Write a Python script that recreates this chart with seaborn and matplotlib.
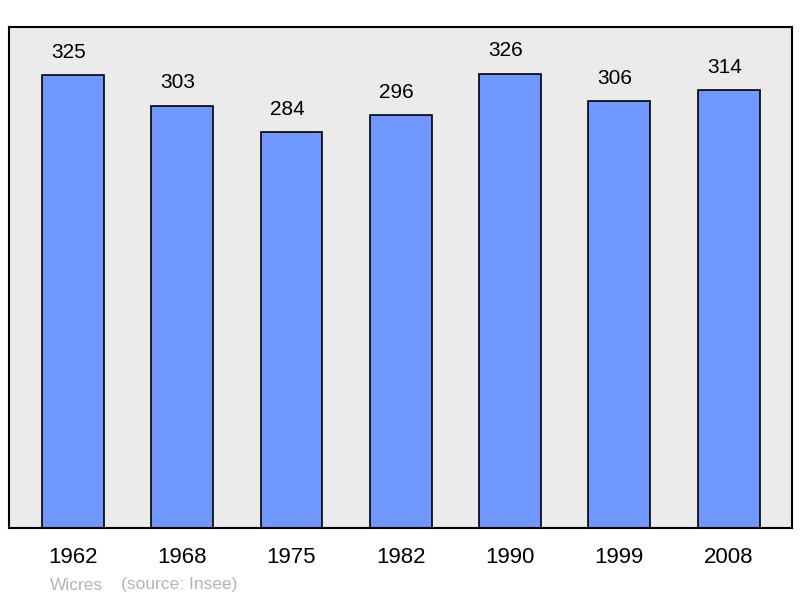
import matplotlib
matplotlib.use("Agg")
import matplotlib.pyplot as plt
import seaborn as sns
import pandas as pd

years = ["1962", "1968", "1975", "1982", "1990", "1999", "2008"]
population = [325, 303, 284, 296, 326, 306, 314]

sns.set_style("white")
plt.rcParams['font.family'] = ['Liberation Sans', 'DejaVu Sans']

df = pd.DataFrame({"year": years, "pop": population})

fig = plt.figure(figsize=(8, 5.98), dpi=100)
ax = fig.add_axes([9/800, 70/598, 783/800, 501/598])
ax.set_facecolor("#ebebeb")

sns.barplot(data=df, x="year", y="pop", ax=ax, color="#7097ff", saturation=1,
            width=0.567, edgecolor="black", linewidth=1.2, zorder=2)

ax.set_xlim(-0.585, 6.58)
ax.set_ylim(0, 359.4)
ax.set_xlabel("")
ax.set_ylabel("")
ax.set_yticks([])
ax.tick_params(axis="x", length=0, labelsize=16, pad=14, labelcolor="black")
for s in ax.spines.values():
    s.set_visible(True)
    s.set_color("black")
    s.set_linewidth(1.5)

for i, v in enumerate(population):
    ax.annotate(str(v), (i, v), xytext=(-3, 16.5), textcoords="offset points",
                ha="center", va="center", fontsize=15, color="black")

fig.text(50/800, 1 - 585/598, "Wicres", fontsize=12.5, color="#b4b4b4", va="center", ha="left")
fig.text(121/800, 1 - 585/598, "(source: Insee)", fontsize=12.5, color="#b4b4b4", va="center", ha="left")

fig.savefig("out.png", dpi=100, facecolor="white")
